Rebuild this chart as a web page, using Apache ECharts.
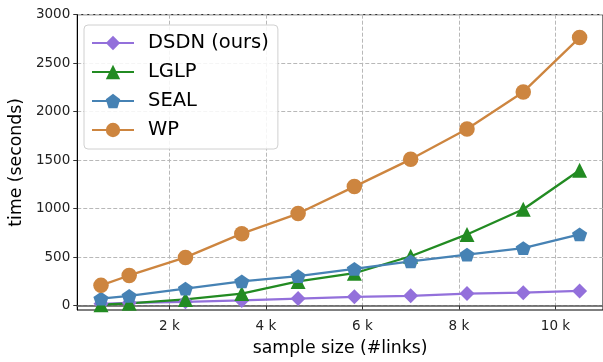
<!DOCTYPE html>
<html>
<head>
<meta charset="utf-8">
<script src="https://cdn.jsdelivr.net/npm/echarts@6/dist/echarts.min.js"></script>
<style>
html,body{margin:0;padding:0;background:#fff;overflow:hidden;}
#chart{width:603px;height:362px;}
</style>
</head>
<body>
<div id="chart"></div>
<script>
const sampleSizes = [583, 1167, 2333, 3500, 4667, 5833, 7000, 8167, 9333, 10500];
const dsdn = [20, 30, 40, 55, 74, 92, 102, 125, 135, 153];
const lglp = [10, 25, 65, 125, 250, 335, 510, 735, 995, 1397];
const seal = [74, 102, 176, 251, 305, 380, 458, 526, 593, 735];
const wp = [210, 312, 498, 743, 950, 1228, 1509, 1821, 2204, 2764];
const yTicks = [0, 500, 1000, 1500, 2000, 2500, 3000];
const xTicks = [2000, 4000, 6000, 8000, 10000];
const seriesNames = ['DSDN (ours)', 'LGLP', 'SEAL', 'WP'];

const FONT = 'DejaVu Sans';
const pentagon = 'path://M0,-1 L0.9511,-0.309 L0.5878,0.809 L-0.5878,0.809 L-0.9511,-0.309 Z';

function pairs(ys) { return sampleSizes.map((x, i) => [x, ys[i]]); }

const specs = [
  {name: seriesNames[0], data: dsdn, color: '#9370DB', symbol: 'diamond', size: [15, 15]},
  {name: seriesNames[1], data: lglp, color: '#228B22', symbol: 'triangle', size: [15, 15]},
  {name: seriesNames[2], data: seal, color: '#4682B4', symbol: pentagon, size: [15.2, 14.5]},
  {name: seriesNames[3], data: wp, color: '#CD853F', symbol: 'circle', size: [15.5, 15.5]}
];

const chart = echarts.init(document.getElementById('chart'), null, {renderer: 'canvas', width: 603, height: 362});
chart.setOption({
  animation: false,
  backgroundColor: '#fff',
  textStyle: {fontFamily: FONT},
  grid: {left: 74, width: 529, top: 14.7, height: 298.6, show: true, borderColor: '#000', borderWidth: 1, backgroundColor: 'transparent'},
  legend: {
    left: 84, top: 25,
    orient: 'vertical',
    data: seriesNames,
    itemWidth: 42, itemHeight: 18, itemGap: 9,
    padding: [8, 9, 9, 7],
    backgroundColor: 'rgba(255,255,255,0.85)',
    borderColor: '#d0d0d0', borderWidth: 1, borderRadius: 4,
    textStyle: {fontFamily: FONT, fontSize: 19.5, color: '#000', lineHeight: 19, padding: [0, 0, 0, 9]}
  },
  xAxis: {
    type: 'value', min: 91, max: 10985,
    name: 'sample size (#links)', nameLocation: 'middle', nameGap: 30,
    nameTextStyle: {fontFamily: FONT, fontSize: 17.3, color: '#000'},
    axisLine: {show: true, lineStyle: {color: '#555', width: 1.6}},
    axisTick: {show: true, inside: false, length: 4, customValues: xTicks, lineStyle: {color: '#333', width: 1}},
    axisLabel: {customValues: xTicks, margin: 9, fontFamily: FONT, fontSize: 13.5, color: '#222',
      formatter: v => (v / 1000) + ' k'},
    splitLine: {show: true, lineStyle: {color: '#b8b8b8', type: [4, 2], width: 1}}
  },
  yAxis: {
    type: 'value', min: -44, max: 3000,
    name: 'time (seconds)', nameLocation: 'middle', nameGap: 45, nameRotate: 90,
    nameTextStyle: {fontFamily: FONT, fontSize: 17.3, color: '#000'},
    axisLine: {show: true, lineStyle: {color: '#000', width: 1}},
    axisTick: {show: true, inside: false, length: 4, customValues: yTicks, lineStyle: {color: '#333', width: 1}},
    axisLabel: {customValues: yTicks, margin: 7, fontFamily: FONT, fontSize: 13.5, color: '#222',
      formatter: v => String(v)},
    splitLine: {show: true, lineStyle: {color: '#b8b8b8', type: [4, 2], width: 1}}
  },
  series: specs.map(s => ({
    name: s.name, type: 'line', data: pairs(s.data),
    symbol: s.symbol, symbolSize: s.size, symbolKeepAspect: true, showSymbol: true,
    clip: false,
    lineStyle: {color: s.color, width: 2.3},
    itemStyle: {color: s.color, borderWidth: 0, opacity: 1}
  }))
});
</script>
</body>
</html>
